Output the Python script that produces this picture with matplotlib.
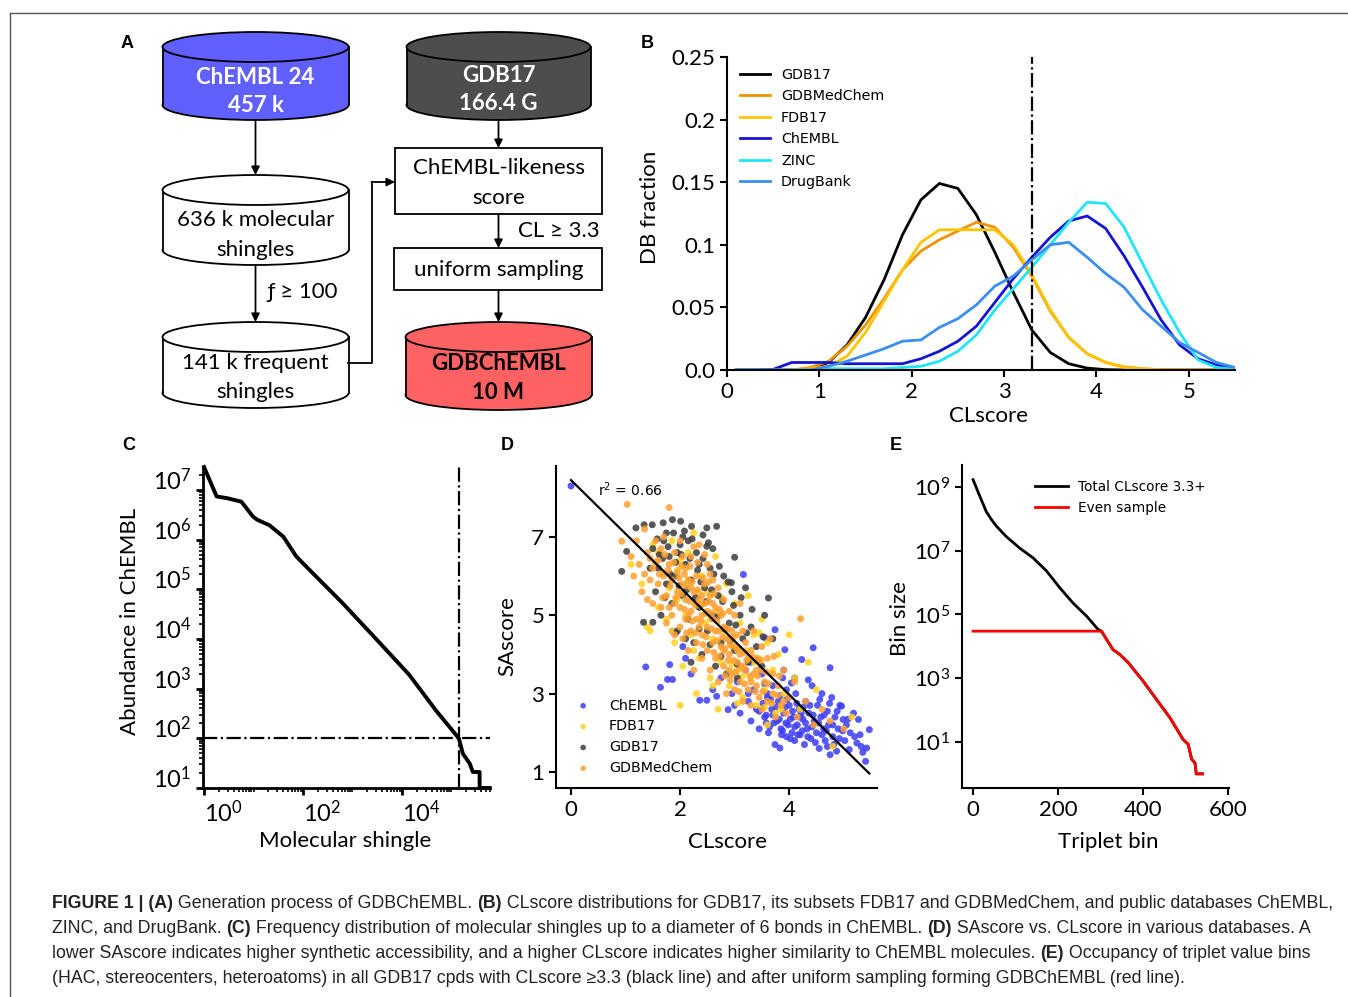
import matplotlib
matplotlib.use('Agg')
import matplotlib.pyplot as plt
import numpy as np
from matplotlib.patches import Ellipse, Rectangle
from matplotlib.ticker import LogLocator, NullLocator, NullFormatter

plt.rcParams['font.family'] = ['Lato', 'DejaVu Sans']

# ---------------- data ----------------
# B: CLscore distributions
cl_bins = [0.1, 0.3, 0.5, 0.7, 0.9, 1.1, 1.3, 1.5, 1.7, 1.9, 2.1, 2.3, 2.5, 2.7,
           2.9, 3.1, 3.3, 3.5, 3.7, 3.9, 4.1, 4.3, 4.5, 4.7, 4.9, 5.1, 5.3, 5.5]
frac_gdb17 = [0, 0, 0, 0, 0.001, 0.006, 0.02, 0.042, 0.072, 0.108, 0.136, 0.149, 0.145, 0.124,
              0.094, 0.062, 0.032, 0.014, 0.005, 0.0015, 0.0003, 0, 0, 0, 0, 0, 0, 0]
frac_medchem = [0, 0, 0, 0, 0.002, 0.007, 0.019, 0.036, 0.057, 0.08, 0.095, 0.104, 0.111, 0.118,
                0.114, 0.098, 0.075, 0.047, 0.026, 0.013, 0.006, 0.0025, 0.001, 0.0003, 0, 0, 0, 0]
frac_fdb17 = [0, 0, 0, 0, 0.001, 0.003, 0.011, 0.03, 0.055, 0.08, 0.102, 0.112, 0.112, 0.112,
              0.112, 0.1, 0.076, 0.048, 0.026, 0.013, 0.006, 0.002, 0.001, 0, 0, 0, 0, 0]
frac_chembl = [0, 0, 0.0005, 0.006, 0.006, 0.006, 0.005, 0.005, 0.005, 0.005, 0.009, 0.015, 0.023, 0.035,
               0.054, 0.073, 0.09, 0.106, 0.119, 0.123, 0.113, 0.091, 0.066, 0.04, 0.02, 0.009, 0.004, 0.001]
frac_zinc = [0, 0, 0, 0, 0, 0.001, 0.001, 0.001, 0.001, 0.002, 0.003, 0.007, 0.015, 0.028,
             0.048, 0.065, 0.082, 0.1, 0.118, 0.134, 0.133, 0.114, 0.085, 0.056, 0.03, 0.008, 0.002, 0.0005]
frac_drugbank = [0, 0, 0, 0, 0, 0.003, 0.007, 0.012, 0.017, 0.023, 0.024, 0.034, 0.041, 0.052,
                 0.067, 0.075, 0.088, 0.1, 0.102, 0.09, 0.077, 0.066, 0.048, 0.035, 0.022, 0.014, 0.006, 0.002]
b_series = ['GDB17', 'GDBMedChem', 'FDB17', 'ChEMBL', 'ZINC', 'DrugBank']
b_colors = ['#000000', '#f39200', '#ffc400', '#1414d4', '#1ee6f8', '#3a8ff0']
cl_cut = 3.3

# C: molecular shingle rank / abundance
shingle_rank = [1, 1.8, 3, 5.7, 9.8, 12, 21, 40, 73, 136, 640, 3000, 14000, 49000,
                141000, 170000, 234000, 270000, 370000, 370000, 590000]
shingle_abund = [2.9e7, 7.4e6, 6.8e6, 5.8e6, 2.9e6, 2.5e6, 1.95e6, 1.15e6, 4.6e5, 2.45e5,
                 5.2e4, 1.0e4, 1.9e3, 3.6e2, 100, 49, 31, 21, 21, 10, 10]
freq_cut = 100
n_frequent = 141000

# D: SAscore vs CLscore
chembl_pts = [(0.0, 8.3), (1.37, 3.68), (1.64, 3.16), (1.77, 3.36), (1.81, 3.74), (1.86, 3.36), (1.86, 4.59),
              (1.92, 4.55), (2.05, 4.2), (2.1, 3.9), (2.2, 3.5), (2.36, 2.83), (2.49, 2.83), (2.6, 3.1),
              (2.67, 2.93), (2.75, 3.4), (2.88, 2.59), (2.95, 3.0), (3.0, 2.7), (3.05, 3.3), (3.1, 2.5),
              (3.16, 6.04), (3.2, 3.6), (3.25, 2.8), (3.3, 2.3), (3.35, 3.1), (3.4, 2.6), (3.45, 2.1),
              (3.5, 3.5), (3.55, 2.4), (3.56, 4.42), (3.6, 2.9), (3.62, 2.0), (3.68, 2.6), (3.7, 3.2),
              (3.74, 4.63), (3.74, 1.7), (3.78, 2.3), (3.8, 2.8), (3.83, 1.61), (3.85, 2.1), (3.88, 3.4),
              (3.9, 2.5), (3.92, 4.12), (3.95, 1.9), (3.98, 2.2), (4.0, 2.7), (4.04, 3.27), (4.05, 2.0),
              (4.08, 2.4), (4.1, 1.8), (4.12, 3.0), (4.15, 2.2), (4.18, 2.6), (4.2, 1.95), (4.23, 3.87),
              (4.25, 2.35), (4.28, 1.7), (4.3, 2.8), (4.33, 2.1), (4.36, 2.5), (4.4, 1.85), (4.42, 3.2),
              (4.44, 4.17), (4.46, 2.3), (4.5, 2.0), (4.52, 2.7), (4.55, 1.6), (4.58, 2.4), (4.6, 3.0),
              (4.63, 2.1), (4.66, 1.8), (4.7, 2.55), (4.72, 2.2), (4.75, 3.66), (4.75, 1.44), (4.78, 2.9),
              (4.8, 1.9), (4.84, 2.4), (4.87, 1.53), (4.9, 2.1), (4.93, 2.7), (4.96, 2.68), (4.99, 2.34),
              (5.02, 1.8), (5.05, 2.2), (5.1, 1.57), (5.12, 2.0), (5.18, 2.5), (5.24, 1.74), (5.27, 2.34),
              (5.3, 1.95), (5.35, 1.5), (5.4, 1.27), (5.42, 1.61), (5.47, 2.08), (3.3, 3.8), (3.9, 3.6),
              (4.1, 3.4), (3.6, 3.0), (3.7, 2.45), (3.88, 2.05), (4.02, 2.35), (4.22, 2.5), (3.58, 2.25),
              (3.45, 2.55), (3.52, 2.75), (3.58, 2.45), (3.64, 2.15), (3.66, 2.85), (3.72, 2.25), (3.76, 2.65),
              (3.82, 2.35), (3.84, 2.95), (3.86, 1.95), (3.92, 2.65), (3.94, 2.25), (3.96, 2.85), (4.02, 1.85),
              (4.06, 2.55), (4.1, 2.15), (4.14, 2.75), (4.16, 1.95), (4.2, 2.4), (4.24, 2.05), (4.26, 2.65),
              (4.3, 2.25), (4.34, 1.9), (4.38, 2.7), (4.42, 2.15), (4.44, 2.45), (4.48, 1.75), (4.54, 2.25),
              (4.56, 2.85), (4.6, 1.95), (4.64, 2.45), (4.68, 2.05), (4.7, 1.65), (4.74, 2.75), (4.8, 2.2),
              (4.82, 1.7), (4.88, 2.55), (4.92, 1.85), (4.98, 2.05), (5.08, 2.35), (5.2, 1.9), (5.32, 1.65),
              (3.95, 3.1), (4.35, 3.35), (3.55, 3.25), (3.25, 3.0)]
fdb17_pts = [(1.1, 6.3), (1.3, 5.8), (1.4, 4.7), (1.5, 6.8), (1.6, 5.2), (1.7, 6.1), (1.75, 4.9), (1.8, 5.7),
             (1.85, 6.9), (1.9, 4.3), (1.95, 5.4), (2.0, 6.4), (2.05, 3.7), (2.1, 5.0), (2.15, 5.9), (2.2, 4.5),
             (2.25, 7.1), (2.3, 5.3), (2.35, 3.9), (2.4, 6.0), (2.45, 4.8), (2.5, 5.6), (2.55, 3.4), (2.6, 4.4),
             (2.65, 6.5), (2.7, 5.1), (2.75, 3.8), (2.8, 4.6), (2.85, 5.8), (2.9, 3.2), (2.95, 4.2), (3.0, 5.3),
             (3.05, 3.6), (3.1, 4.8), (3.15, 2.9), (3.2, 4.1), (3.25, 5.5), (3.3, 3.4), (3.35, 4.5), (3.4, 2.7),
             (3.45, 3.9), (3.5, 4.9), (3.55, 3.1), (3.6, 4.3), (3.7, 3.6), (3.75, 2.5), (3.8, 4.0), (3.9, 3.0),
             (4.0, 4.5), (4.1, 3.4), (4.2, 2.6), (4.35, 3.8), (4.5, 3.1), (4.8, 1.65), (5.15, 2.4), (2.3, 3.0),
             (2.0, 2.7), (1.45, 4.6), (2.7, 2.6), (3.6, 2.2), (1.95, 6.15), (2.15, 6.6), (2.35, 5.6),
             (2.55, 4.9), (2.75, 5.45), (2.95, 3.75), (3.15, 3.45), (3.35, 3.8), (3.55, 2.65), (3.85, 2.6),
             (2.25, 4.1), (1.6, 6.6), (1.85, 4.6), (2.6, 3.2), (3.05, 2.75), (3.45, 4.55)]
gdb17_pts = [(1.19, 7.23), (1.34, 7.31), (1.49, 7.31), (1.69, 7.36), (1.86, 7.44), (2.01, 7.4), (2.21, 7.27),
             (2.49, 7.23), (2.67, 7.27), (0.93, 6.12), (1.02, 6.63), (1.33, 4.82), (1.5, 4.82), (2.49, 6.76),
             (3.0, 6.48), (3.62, 5.44), (2.94, 5.83), (1.5, 6.7), (1.6, 6.2), (1.7, 6.9), (1.75, 5.8),
             (1.8, 6.5), (1.85, 5.3), (1.9, 6.0), (1.95, 4.6), (2.0, 6.8), (2.05, 5.5), (2.1, 6.3), (2.15, 4.9),
             (2.2, 5.9), (2.25, 4.3), (2.3, 6.6), (2.35, 5.2), (2.4, 4.0), (2.45, 5.7), (2.5, 4.6), (2.55, 6.2),
             (2.6, 5.0), (2.65, 3.7), (2.7, 5.5), (2.75, 4.3), (2.8, 6.0), (2.85, 3.5), (2.9, 4.8), (2.95, 5.6),
             (3.0, 4.1), (3.05, 3.4), (3.1, 5.0), (3.15, 4.4), (3.2, 5.7), (3.25, 3.8), (3.3, 4.7), (3.4, 4.2),
             (3.5, 3.7), (3.55, 5.0), (3.7, 4.4), (2.2, 3.8), (1.65, 5.0), (2.05, 7.0), (1.55, 5.6),
             (1.75, 7.1), (1.95, 6.6), (2.15, 6.9), (2.35, 6.3), (2.6, 6.7), (1.62, 6.55), (2.42, 7.05),
             (1.58, 6.95), (1.68, 6.45), (1.78, 6.75), (1.82, 6.05), (1.88, 7.1), (1.92, 6.35), (1.98, 5.75),
             (2.02, 6.55), (2.08, 7.15), (2.12, 5.65), (2.18, 6.45), (2.22, 6.95), (2.28, 5.45), (2.32, 6.15),
             (2.38, 5.85), (2.42, 6.45), (2.48, 5.35), (2.52, 6.85), (2.58, 5.65), (2.62, 6.05), (2.68, 4.95),
             (2.72, 6.25), (2.78, 5.35), (2.82, 4.65), (2.88, 5.85), (2.92, 4.35), (2.98, 5.25), (3.02, 4.75),
             (3.12, 5.45), (3.22, 4.55), (3.32, 5.15), (3.42, 3.85), (3.52, 4.45), (2.55, 4.25), (2.35, 4.65),
             (2.75, 3.95), (3.05, 3.75), (1.72, 5.45), (2.1, 4.4), (1.45, 6.2)]
medchem_pts = [(1.03, 7.83), (0.93, 6.89), (1.1, 6.5), (1.15, 6.0), (1.2, 6.9), (1.25, 6.3), (1.3, 5.6),
               (1.35, 7.2), (1.4, 6.6), (1.45, 5.9), (1.5, 6.2), (1.5, 5.3), (1.55, 6.9), (1.6, 5.8),
               (1.6, 6.4), (1.65, 5.2), (1.7, 6.0), (1.7, 7.0), (1.75, 5.5), (1.75, 4.8), (1.8, 7.75),
               (1.8, 6.3), (1.85, 5.0), (1.85, 5.9), (1.9, 6.6), (1.9, 4.5), (1.95, 5.6), (1.95, 6.1),
               (2.0, 5.2), (2.0, 4.7), (2.0, 6.9), (2.05, 5.8), (2.05, 4.4), (2.1, 6.2), (2.1, 5.4),
               (2.1, 4.9), (2.15, 5.9), (2.15, 4.1), (2.2, 6.5), (2.2, 5.1), (2.2, 4.6), (2.25, 5.6),
               (2.25, 3.6), (2.3, 6.0), (2.3, 4.9), (2.3, 4.3), (2.35, 5.4), (2.35, 6.8), (2.4, 5.0),
               (2.4, 4.5), (2.4, 3.9), (2.45, 5.8), (2.45, 5.3), (2.5, 4.7), (2.5, 6.3), (2.5, 4.1),
               (2.55, 5.5), (2.55, 3.6), (2.6, 4.9), (2.6, 5.9), (2.6, 4.3), (2.65, 5.2), (2.65, 3.9),
               (2.7, 4.6), (2.7, 5.7), (2.7, 3.3), (2.75, 5.0), (2.75, 4.2), (2.8, 4.7), (2.8, 3.7),
               (2.8, 5.4), (2.85, 4.4), (2.85, 3.0), (2.9, 5.1), (2.9, 4.0), (2.95, 4.6), (2.95, 3.5),
               (3.0, 4.2), (3.0, 5.0), (3.0, 3.1), (3.05, 4.5), (3.05, 3.8), (3.1, 4.0), (3.1, 3.3),
               (3.1, 5.3), (3.15, 4.6), (3.15, 2.8), (3.2, 3.6), (3.2, 4.3), (3.25, 3.9), (3.25, 3.1),
               (3.3, 4.1), (3.3, 2.7), (3.35, 3.5), (3.35, 4.6), (3.4, 3.2), (3.4, 3.9), (3.45, 2.9),
               (3.5, 3.6), (3.5, 4.2), (3.5, 2.6), (3.55, 3.3), (3.6, 3.9), (3.6, 2.8), (3.65, 4.4),
               (3.7, 3.0), (3.7, 3.5), (3.75, 2.4), (3.8, 3.2), (3.85, 2.7), (3.9, 3.6), (3.95, 2.5),
               (4.0, 2.9), (4.1, 3.3), (4.15, 2.4), (4.21, 4.91), (4.3, 2.8), (4.45, 2.2), (4.6, 2.6),
               (4.75, 2.3), (5.0, 2.1), (1.4, 5.4), (1.65, 6.7), (1.9, 5.3), (2.15, 5.0), (2.4, 5.5),
               (2.65, 4.6), (2.9, 4.4), (3.15, 3.7), (3.4, 3.6), (2.2, 5.7), (2.5, 5.1), (2.8, 4.1),
               (3.05, 4.1), (3.3, 3.3), (1.8, 5.2), (2.05, 6.5), (2.35, 4.7), (2.6, 5.3), (2.9, 3.6),
               (1.62, 6.05), (1.68, 5.45), (1.72, 6.55), (1.78, 6.15), (1.82, 5.75), (1.88, 6.35), (1.92, 5.45),
               (1.98, 5.95), (2.02, 6.25), (2.02, 5.55), (2.08, 5.15), (2.08, 6.05), (2.12, 5.75), (2.12, 4.55),
               (2.18, 5.35), (2.18, 6.25), (2.22, 4.85), (2.22, 5.85), (2.28, 5.25), (2.28, 4.55), (2.32, 5.65),
               (2.32, 6.35), (2.38, 4.85), (2.38, 5.25), (2.42, 5.95), (2.42, 4.25), (2.48, 5.05), (2.48, 4.45),
               (2.52, 5.35), (2.52, 5.85), (2.58, 4.65), (2.58, 5.05), (2.62, 4.05), (2.62, 5.55), (2.68, 4.85),
               (2.68, 4.35), (2.72, 5.15), (2.72, 3.95), (2.78, 4.45), (2.78, 5.05), (2.82, 4.15), (2.82, 3.45),
               (2.88, 4.65), (2.88, 3.85), (2.92, 4.25), (2.92, 3.35), (2.98, 3.85), (2.98, 4.45), (3.02, 3.55),
               (3.08, 4.15), (3.08, 3.05), (3.12, 3.65), (3.18, 4.05), (3.18, 3.25), (3.22, 3.85), (3.28, 3.45),
               (3.32, 3.95), (3.38, 3.05), (3.42, 3.45), (3.48, 3.85), (3.52, 3.05), (3.58, 3.55), (3.62, 3.25),
               (3.68, 2.75), (3.72, 3.95), (3.78, 2.95), (3.82, 3.45), (3.9, 2.8), (1.55, 6.35), (1.45, 6.45),
               (1.35, 6.05), (2.25, 6.75), (2.55, 6.05), (2.45, 6.55)]
fit_x = [0.0, 5.47]
fit_y = [8.45, 0.96]

# E: triplet bins
triplet_bin = [0, 16, 31, 43, 55, 78, 110, 141, 173, 204, 235, 267, 294, 302, 329, 345, 365,
               400, 431, 463, 494, 506, 514, 522, 525, 540]
total_size = [1.7e9, 5.1e8, 1.7e8, 9.6e7, 5.9e7, 2.8e7, 1.2e7, 6.0e6, 2.3e6, 6.9e5, 2.3e5, 8.9e4,
              3.4e4, 3.0e4, 7.9e3, 5.6e3, 3.1e3, 8.1e2, 2.2e2, 58, 12, 8.5, 2.9, 2.2, 1, 1]
sample_cap = 3.0e4

W, H = 1348, 997
fig = plt.figure(figsize=(W / 100, H / 100), dpi=100)

# ---------------- overlay (panel A, letters, caption, frame) ----------------
ov = fig.add_axes([0, 0, 1, 1])
ov.set_xlim(0, W)
ov.set_ylim(H, 0)
ov.axis('off')

ov.plot([10, 10], [13, H], color='#555555', lw=1.0)
ov.plot([10, W], [13, 13], color='#555555', lw=1.0)

flow_font = dict(family=['Lato', 'DejaVu Sans'], fontsize=16)


def cylinder(xc, width, y_top, y_bot, fc, ry=15):
    ov.add_patch(Ellipse((xc, y_bot), width, 2 * ry, fc=fc, ec='black', lw=1.3, zorder=2))
    ov.add_patch(Rectangle((xc - width / 2, y_top), width, y_bot - y_top, fc=fc, ec='none', zorder=2))
    ov.plot([xc - width / 2] * 2, [y_top, y_bot], color='black', lw=1.3, zorder=3)
    ov.plot([xc + width / 2] * 2, [y_top, y_bot], color='black', lw=1.3, zorder=3)
    ov.add_patch(Ellipse((xc, y_top), width, 2 * ry, fc=fc, ec='black', lw=1.3, zorder=3))


def box(x0, x1, y0, y1):
    ov.add_patch(Rectangle((x0, y0), x1 - x0, y1 - y0, fc='white', ec='black', lw=1.3, zorder=2))


def arrow(x0, y0, x1, y1):
    ov.annotate('', xy=(x1, y1), xytext=(x0, y0),
                arrowprops=dict(arrowstyle='-|>', color='black', lw=1.3,
                                mutation_scale=12, shrinkA=0, shrinkB=0), zorder=4)


cylinder(255.5, 186, 47, 105, '#6060ff')
cylinder(498.5, 184, 47, 105, '#4d4d4d')
cylinder(255.5, 186, 190, 250, 'white')
cylinder(255.5, 186, 337, 393, 'white')
cylinder(498.5, 186, 337, 395, '#ff6262')
box(395, 602, 148, 214)
box(394, 602, 248, 290)

arrow(255.5, 120, 255.5, 175)
arrow(255.5, 265, 255.5, 322)
arrow(498.5, 120, 498.5, 148)
arrow(498.5, 214, 498.5, 248)
arrow(498.5, 290, 498.5, 322)
ov.plot([348, 372, 372], [363, 363, 182], color='black', lw=1.3, zorder=3)
arrow(371.5, 182, 395, 182)

ov.text(255.5, 77, 'ChEMBL 24', color='white', fontweight='bold', ha='center', va='center', zorder=5, **flow_font)
ov.text(255.5, 105, '457 k', color='white', fontweight='bold', ha='center', va='center', zorder=5, **flow_font)
ov.text(498.5, 75, 'GDB17', color='white', fontweight='bold', ha='center', va='center', zorder=5, **flow_font)
ov.text(498.5, 103, '166.4 G', color='white', fontweight='bold', ha='center', va='center', zorder=5, **flow_font)
ov.text(255.5, 220, '636 k molecular', ha='center', va='center', zorder=5, **flow_font)
ov.text(255.5, 250, 'shingles', ha='center', va='center', zorder=5, **flow_font)
ov.text(268, 292, 'ƒ ≥ 100', ha='left', va='center', zorder=5, **flow_font)
ov.text(255.5, 363, '141 k frequent', ha='center', va='center', zorder=5, **flow_font)
ov.text(255.5, 392, 'shingles', ha='center', va='center', zorder=5, **flow_font)
ov.text(498.5, 168, 'ChEMBL-likeness', ha='center', va='center', zorder=5, **flow_font)
ov.text(498.5, 198, 'score', ha='center', va='center', zorder=5, **flow_font)
ov.text(518, 231, 'CL ≥ 3.3', ha='left', va='center', zorder=5, **flow_font)
ov.text(498.5, 270, 'uniform sampling', ha='center', va='center', zorder=5, **flow_font)
ov.text(498.5, 363, 'GDBChEMBL', fontweight='bold', ha='center', va='center', zorder=5, **flow_font)
ov.text(498.5, 392, '10 M', fontweight='bold', ha='center', va='center', zorder=5, **flow_font)

for letter, (lx, ly) in zip('ABCDE', [(127, 43), (647, 43), (129, 445), (507, 445), (896, 445)]):
    ov.text(lx, ly, letter, family='Liberation Sans', fontweight='bold', fontsize=13,
            ha='center', va='center')

# caption with bold runs
caption = [
    [('FIGURE 1 | (A)', 'bold'), (' Generation process of GDBChEMBL. ', 'normal'), ('(B)', 'bold'),
     (' CLscore distributions for GDB17, its subsets FDB17 and GDBMedChem, and public databases ChEMBL,', 'normal')],
    [('ZINC, and DrugBank. ', 'normal'), ('(C)', 'bold'),
     (' Frequency distribution of molecular shingles up to a diameter of 6 bonds in ChEMBL. ', 'normal'),
     ('(D)', 'bold'), (' SAscore vs. CLscore in various databases. A', 'normal')],
    [('lower SAscore indicates higher synthetic accessibility, and a higher CLscore indicates higher '
      'similarity to ChEMBL molecules. ', 'normal'), ('(E)', 'bold'), (' Occupancy of triplet value bins', 'normal')],
    [('(HAC, stereocenters, heteroatoms) in all GDB17 cpds with CLscore ≥3.3 (black line) and after '
      'uniform sampling forming GDBChEMBL (red line).', 'normal')],
]
renderer = fig.canvas.get_renderer()
for i, runs in enumerate(caption):
    cx = 52
    cy = 903 + 25 * i
    for s, wgt in runs:
        t = ov.text(cx, cy, s, family='Liberation Sans', fontweight=wgt, fontsize=12.78,
                    color='#222222', ha='left', va='center')
        cx += t.get_window_extent(renderer).width


def style_axes(ax, lw=1.5):
    for side in ['top', 'right']:
        ax.spines[side].set_visible(False)
    for side in ['left', 'bottom']:
        ax.spines[side].set_linewidth(lw)
    ax.tick_params(direction='out', width=lw, length=5, labelsize=16)
    ax.patch.set_alpha(0)


# ---------------- B ----------------
axB = fig.add_axes([727 / W, 1 - 370 / H, 508 / W, 313 / H])
style_axes(axB)
b_data = [frac_gdb17, frac_medchem, frac_fdb17, frac_chembl, frac_zinc, frac_drugbank]
for name, col, vals in zip(b_series, b_colors, b_data):
    axB.plot(cl_bins, vals, color=col, lw=2.0, label=name)
axB.axvline(cl_cut, color='black', lw=1.6, ls='-.')
axB.set_xlim(0, 5.5)
axB.set_ylim(0, 0.25)
axB.set_xticks([0, 1, 2, 3, 4, 5])
axB.set_yticks([0, 0.05, 0.1, 0.15, 0.2, 0.25])
axB.set_yticklabels(['0.0', '0.05', '0.1', '0.15', '0.2', '0.25'])
axB.set_xlabel('CLscore', fontsize=16)
axB.set_ylabel('DB fraction', fontsize=16)
axB.xaxis.set_label_coords(0.514, -0.115)
axB.yaxis.set_label_coords(-0.132, 0.518)
axB.legend(loc='upper left', bbox_to_anchor=(0.026, 0.965), frameon=False, borderpad=0,
           borderaxespad=0, handlelength=2.1, handletextpad=0.75, labelspacing=0.52,
           prop=dict(family='DejaVu Sans', size=10.3))

# ---------------- C ----------------
axC = fig.add_axes([203 / W, 1 - 788 / H, 287 / W, 321 / H])
style_axes(axC, lw=2.0)
axC.plot(shingle_rank, shingle_abund, color='black', lw=2.8, clip_on=False, zorder=3)
axC.axhline(freq_cut, color='black', lw=1.6, ls='-.')
axC.axvline(n_frequent, color='black', lw=1.6, ls='-.')
axC.set_xscale('log')
axC.set_yscale('log')
axC.set_xlim(0.954, 6.0e5)
axC.set_ylim(10, 2.9e7)
axC.set_xticks([1, 1e2, 1e4])
axC.set_yticks([1e1, 1e2, 1e3, 1e4, 1e5, 1e6, 1e7])
axC.xaxis.set_minor_locator(LogLocator(base=10, subs=np.arange(1, 10), numticks=20))
axC.yaxis.set_minor_locator(LogLocator(base=10, subs=np.arange(1, 10), numticks=20))
axC.xaxis.set_minor_formatter(NullFormatter())
axC.yaxis.set_minor_formatter(NullFormatter())
axC.tick_params(which='minor', length=3, width=1.2)
axC.tick_params(which='major', labelsize=17)
for lab in axC.get_xticklabels():
    lab.set_ha('left')
for lab in axC.get_yticklabels():
    lab.set_va('baseline')
axC.set_xlabel('Molecular shingle', fontsize=16)
axC.set_ylabel('Abundance in ChEMBL', fontsize=16)
axC.xaxis.set_label_coords(0.495, -0.134)
axC.yaxis.set_label_coords(-0.22, 0.52)

# ---------------- D ----------------
axD = fig.add_axes([556 / W, 1 - 788 / H, 321 / W, 322 / H])
style_axes(axD)
d_sets = [('ChEMBL', chembl_pts, '#3c3cf5'), ('FDB17', fdb17_pts, '#ffd21f'),
          ('GDB17', gdb17_pts, '#3c3c3c'), ('GDBMedChem', medchem_pts, '#ffa030')]
for name, pts, col in d_sets:
    arr = np.array(pts)
    axD.scatter(arr[:, 0], arr[:, 1], s=25, color=col, alpha=0.85, edgecolors='none', label=name)
axD.plot(fit_x, fit_y, color='black', lw=1.6)
axD.text(0.5, 8.2, r'r$^2$ = 0.66', family='DejaVu Sans', fontsize=10, ha='left', va='center')
axD.set_xlim(-0.275, 5.61)
axD.set_ylim(0.59, 8.81)
axD.set_xticks([0, 2, 4])
axD.set_yticks([1, 3, 5, 7])
axD.set_xlabel('CLscore', fontsize=16)
axD.set_ylabel('SAscore', fontsize=16)
axD.xaxis.set_label_coords(0.533, -0.137)
axD.yaxis.set_label_coords(-0.121, 0.472)
axD.legend(loc='lower left', bbox_to_anchor=(0.04, 0.04), frameon=False, borderpad=0,
           borderaxespad=0, scatterpoints=1, markerscale=0.8, handletextpad=0.8, labelspacing=0.48,
           prop=dict(family='DejaVu Sans', size=10.3))

# ---------------- E ----------------
axE = fig.add_axes([962 / W, 1 - 788 / H, 267 / W, 323 / H])
style_axes(axE)
even_sample = np.minimum(np.array(total_size), sample_cap)
axE.plot(triplet_bin, total_size, color='black', lw=2.0, label='Total CLscore 3.3+')
axE.plot(triplet_bin, even_sample, color='#ff0000', lw=2.0, label='Even sample')
axE.set_yscale('log')
axE.set_xlim(-26, 602)
axE.set_ylim(0.36, 4.9e9)
axE.set_xticks([0, 200, 400, 600])
axE.set_yticks([1e1, 1e3, 1e5, 1e7, 1e9])
axE.yaxis.set_minor_locator(NullLocator())
axE.set_xlabel('Triplet bin', fontsize=16)
axE.set_ylabel('Bin size', fontsize=16)
axE.xaxis.set_label_coords(0.547, -0.136)
axE.yaxis.set_label_coords(-0.195, 0.526)
axE.legend(loc='upper left', bbox_to_anchor=(0.273, 0.954), frameon=False, borderpad=0,
           borderaxespad=0, handlelength=2.4, handletextpad=0.8, labelspacing=0.52,
           prop=dict(family='DejaVu Sans', size=9.8))

fig.savefig('out.png', dpi=100)
